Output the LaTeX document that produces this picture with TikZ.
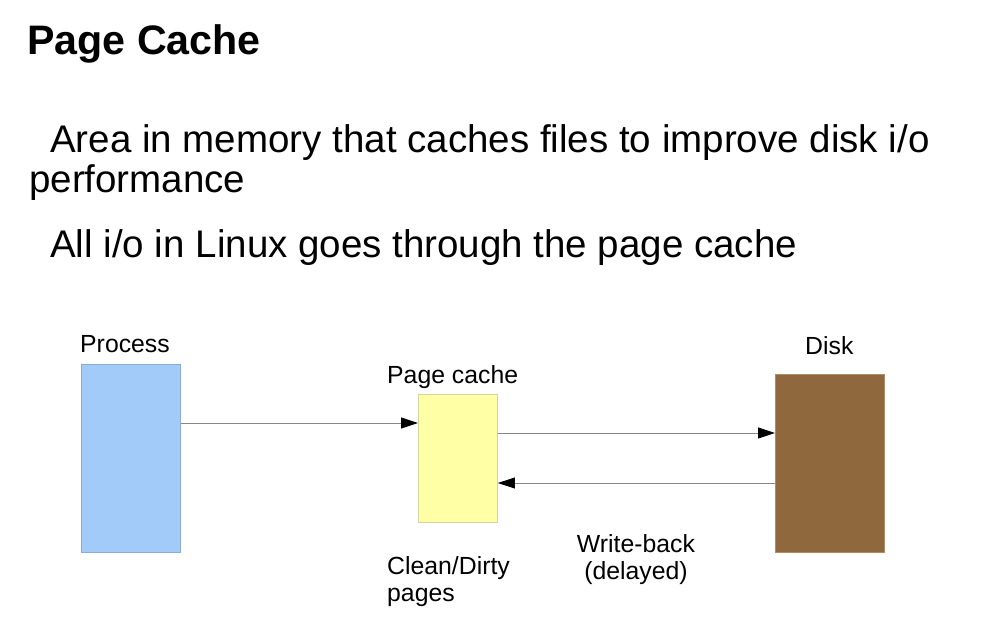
\documentclass[tikz,border=0pt]{standalone}
\usepackage{fontspec}
\setmainfont{Liberation Sans}
\usetikzlibrary{arrows.meta}
\definecolor{procfill}{RGB}{163,203,250}
\definecolor{procline}{RGB}{140,172,212}
\definecolor{pcfill}{RGB}{255,255,166}
\definecolor{pcline}{RGB}{212,212,160}
\definecolor{diskfill}{RGB}{143,104,62}
\definecolor{diskline}{RGB}{175,140,100}
\definecolor{arrline}{RGB}{135,135,135}
\begin{document}
\begin{tikzpicture}[x=1pt,y=-1pt,
  txt/.style={anchor=base west,inner sep=0pt,font=\fontsize{24.8}{29}\selectfont},
  big/.style={anchor=base west,inner sep=0pt,font=\fontsize{38.5}{44}\selectfont},
  box/.style={anchor=north west,inner sep=0pt,line width=0.9pt},
  conn/.style={draw=arrline,line width=0.8pt,-{Triangle[length=17pt,width=11pt,color=black]}}]
\useasboundingbox[fill=white] (0,0) rectangle (1000,644);
\node[anchor=base west,inner sep=0pt,font=\fontsize{41.2}{46}\selectfont\bfseries] (title) at (27,55) {Page Cache};
\node[big] (l1) at (50,153) {Area in memory that caches files to improve disk i/o};
\node[big] (l2) at (29,193) {performance};
\node[big] (l3) at (50,257) {All i/o in Linux goes through the page cache};
\node[box,fill=procfill,draw=procline,minimum width=99pt,minimum height=188pt] (proc) at (81,364) {};
\node[box,fill=pcfill,draw=pcline,minimum width=79pt,minimum height=128pt] (pc) at (418,394) {};
\node[box,fill=diskfill,draw=diskline,minimum width=109pt,minimum height=178pt] (disk) at (775,374) {};
\node[txt] (lproc) at (80,352) {Process};
\node[txt] (lpc) at (387,383) {Page cache};
\node[txt] (ldisk) at (805,354) {Disk};
\node[txt] (lcd1) at (387,574) {Clean/Dirty};
\node[txt] (lcd2) at (387,601) {pages};
\node[txt,anchor=base] (lwb1) at (636,552) {Write-back};
\node[txt,anchor=base] (lwb2) at (636,579) {(delayed)};
\coordinate (ya) at (0,423);
\coordinate (yb) at (0,433);
\coordinate (yc) at (0,483);
\draw[conn] (proc.east |- ya) -- (pc.west |- ya);
\draw[conn] (pc.east |- yb) -- (disk.west |- yb);
\draw[conn] (disk.west |- yc) -- (pc.east |- yc);
\end{tikzpicture}
\end{document}
